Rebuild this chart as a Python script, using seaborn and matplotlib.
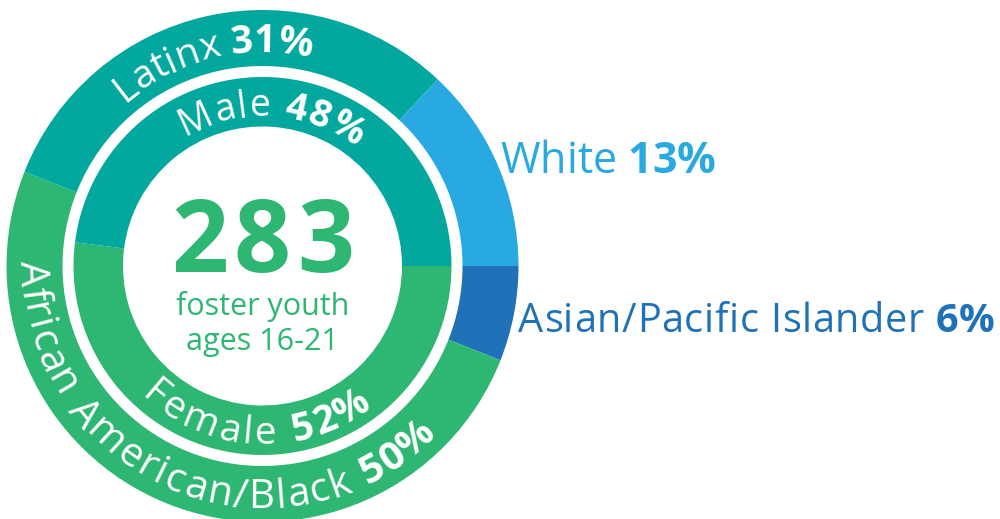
import matplotlib
matplotlib.use("Agg")
import numpy as np
import matplotlib.pyplot as plt
import seaborn as sns
from matplotlib.font_manager import FontProperties

# Data
ethnicity = ["Asian/Pacific Islander", "African American/Black", "Latinx", "White"]
ethnicity_pct = [6, 50, 31, 13]
gender = ["Female", "Male"]
gender_pct = [52, 48]
total_youth = "283"
subtitle = ["foster youth", "ages 16-21"]

# Colours
TEAL = "#02a89e"
GREEN = "#2eb673"
LIGHT_BLUE = "#29a9e1"
DARK_BLUE = "#1f72b8"
eth_colors = [DARK_BLUE, GREEN, TEAL, LIGHT_BLUE]
gender_colors = [GREEN, TEAL]

FONT = "Open Sans"
W, H = 1000, 519
CX, CY = 262.5, H - 266

# ring geometry in pixels
R_OUT, W_OUT = 256, 56
R_IN, W_IN = 189, 49.5

sns.set_theme(style="white")
plt.rcParams["font.family"] = [FONT, "DejaVu Sans"]

fig = plt.figure(figsize=(W / 100, H / 100), dpi=100)
ax = fig.add_axes([0, 0, 1, 1])
renderer = fig.canvas.get_renderer()


def text_width(s, fp):
    # pad with a glyph on each side so spaces are counted
    w = renderer.get_text_width_height_descent("l" + s + "l", fp, ismath=False)[0]
    w0 = renderer.get_text_width_height_descent("ll", fp, ismath=False)[0]
    return w - w0


def layout(parts, size, tracking):
    """Return (char, fontprops, centre offset) and the total length."""
    chars = []
    offset = 0
    n = 0
    for text, weight in parts:
        fp = FontProperties(family=FONT, size=size, weight=weight)
        prev = 0
        for i, ch in enumerate(text):
            w = text_width(text[:i + 1], fp)
            chars.append((ch, fp, offset + (prev + w) / 2 + n * tracking))
            prev = w
            n += 1
        offset += prev
    return chars, offset + (n - 1) * tracking


def curved_label(parts, theta_mid, r_mid, size, tracking=0):
    """Lay out text along an arc, one character at a time."""
    chars, total = layout(parts, size, tracking)
    fp0 = FontProperties(family=FONT, size=size)
    cap = renderer.get_text_width_height_descent("H", fp0, ismath=False)[1]

    top = np.sin(np.radians(theta_mid)) > 0
    r_base = r_mid - cap / 2 if top else r_mid + cap / 2
    for ch, fp, s in chars:
        if ch == " ":
            continue
        delta = np.degrees((total / 2 - s) / r_base)
        if top:
            ang = theta_mid + delta
            rot = ang - 90
        else:
            ang = theta_mid - delta
            rot = ang + 90
        x = CX + r_base * np.cos(np.radians(ang))
        y = CY + r_base * np.sin(np.radians(ang))
        ax.text(x, y, ch, fontproperties=fp, color="white", rotation=rot,
                rotation_mode="anchor", ha="center", va="baseline")


def straight_label(parts, x, y, size, color, tracking=0, centered=False):
    chars, total = layout(parts, size, tracking)
    if centered:
        x = x - total / 2
    for ch, fp, s in chars:
        if ch == " ":
            continue
        ax.text(x + s, y, ch, fontproperties=fp, color=color,
                ha="center", va="baseline")


outer, _ = ax.pie(ethnicity_pct, radius=R_OUT, center=(CX, CY), startangle=0,
                  counterclock=False, colors=eth_colors,
                  wedgeprops=dict(width=W_OUT, linewidth=0))
inner, _ = ax.pie(gender_pct, radius=R_IN, center=(CX, CY), startangle=0,
                  counterclock=False, colors=gender_colors,
                  wedgeprops=dict(width=W_IN, linewidth=0))

ax.set_xlim(0, W)
ax.set_ylim(0, H)
ax.set_aspect("auto")
ax.axis("off")

# curved labels: font size, letter spacing, angular nudge
curved_style = {"Latinx": (28, 0, 1),
                "African American/Black": (29, 2.1, -1),
                "Male": (27, 1.5, 0),
                "Female": (28, 3.6, 1)}

for wedge, name, pct in zip(outer, ethnicity, ethnicity_pct):
    if name in curved_style:
        size, track, nudge = curved_style[name]
        mid = (wedge.theta1 + wedge.theta2) / 2 + nudge
        curved_label([(name + " ", "normal"), (f"{pct}%", "bold")], mid,
                     R_OUT - W_OUT / 2, size, track)

for wedge, name, pct in zip(inner, gender, gender_pct):
    size, track, nudge = curved_style[name]
    mid = (wedge.theta1 + wedge.theta2) / 2 + nudge
    curved_label([(name + " ", "normal"), (f"{pct}%", "bold")], mid,
                 R_IN - W_IN / 2, size, track)

# labels outside the ring
outside = {"White": (500, H - 173, LIGHT_BLUE, 31, 0),
           "Asian/Pacific Islander": (518, H - 332, DARK_BLUE, 28.5, 0.7)}
for name, pct in zip(ethnicity, ethnicity_pct):
    if name in outside:
        x, y, col, size, track = outside[name]
        straight_label([(name + " ", "normal"), (f"{pct}%", "bold")],
                       x, y, size, col, track)

# centre text
straight_label([(total_youth, "bold")], CX, H - 272, 72, GREEN,
               tracking=6, centered=True)
ax.text(CX, H - 315, subtitle[0], color=GREEN, fontsize=22, ha="center",
        va="baseline", family=FONT)
ax.text(CX, H - 350, subtitle[1], color=GREEN, fontsize=22, ha="center",
        va="baseline", family=FONT)

fig.savefig("out.png", dpi=100, facecolor="white")
